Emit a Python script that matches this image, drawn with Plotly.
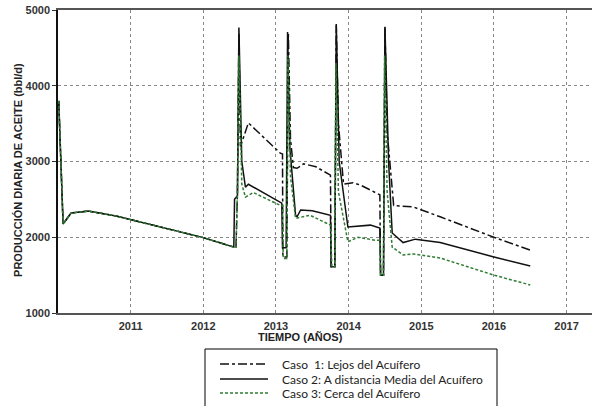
import plotly.graph_objects as go

# Shared early history (decimal years, bbl/d)
base_t = [2010.01, 2010.07, 2010.18, 2010.42, 2010.80, 2011.50, 2012.00, 2012.42]
base_q = [3800, 2175, 2320, 2345, 2280, 2110, 1995, 1870]

# Caso 1: Lejos del Acuífero
c1_t = [2012.45, 2012.47, 2012.49, 2012.51, 2012.53, 2012.62, 2012.80, 2013.06, 2013.09,
        2013.095, 2013.15, 2013.17, 2013.20, 2013.24, 2013.29, 2013.38, 2013.55, 2013.75,
        2013.76, 2013.81, 2013.83, 2013.86, 2013.93, 2014.06, 2014.16, 2014.43,
        2014.44, 2014.48, 2014.50, 2014.53, 2014.62, 2014.89, 2015.26, 2016.00, 2016.50]
c1_q = [1870, 2600, 4700, 3200, 3250, 3510, 3350, 3110, 3100,
        1740, 1740, 4700, 3300, 2920, 2910, 2970, 2930, 2820,
        1610, 1610, 4800, 3500, 2700, 2720, 2690, 2560,
        1500, 1500, 4780, 3400, 2420, 2400, 2270, 2000, 1830]

# Caso 2: A distancia Media del Acuífero
c2_t = [2012.43, 2012.47, 2012.49, 2012.53, 2012.58, 2012.62, 2013.08, 2013.09, 2013.14,
        2013.16, 2013.19, 2013.27, 2013.29, 2013.34, 2013.50, 2013.75, 2013.76, 2013.81,
        2013.83, 2013.87, 2013.99, 2014.30, 2014.43, 2014.44, 2014.48, 2014.50, 2014.55,
        2014.60, 2014.75, 2014.92, 2015.26, 2016.00, 2016.50]
c2_q = [2500, 2550, 4770, 3000, 2660, 2700, 2450, 1860, 1860,
        4710, 3200, 2290, 2270, 2360, 2350, 2290, 1610, 1610,
        4815, 3000, 2135, 2160, 2120, 1500, 1500, 4780, 3000,
        2056, 1930, 1975, 1930, 1740, 1620]

# Caso 3: Cerca del Acuífero
c3_t = [2012.45, 2012.47, 2012.49, 2012.53, 2012.58, 2012.69, 2013.06, 2013.09, 2013.10,
        2013.15, 2013.165, 2013.20, 2013.27, 2013.47, 2013.75, 2013.77, 2013.81, 2013.825,
        2013.86, 2013.99, 2014.13, 2014.365, 2014.43, 2014.44, 2014.48, 2014.495, 2014.53,
        2014.60, 2014.75, 2014.89, 2015.26, 2016.00, 2016.50]
c3_q = [1870, 2600, 4400, 2700, 2530, 2590, 2420, 2420, 1720,
        1720, 4400, 2800, 2250, 2290, 2160, 1610, 1610, 4300,
        2600, 1940, 2000, 1960, 1960, 1500, 1500, 4400, 2600,
        1870, 1766, 1780, 1726, 1500, 1370]

x_ticks = [2011, 2012, 2013, 2014, 2015, 2016, 2017]
y_ticks = [1000, 2000, 3000, 4000, 5000]

names = ["Caso  1: Lejos del Acuífero",
         "Caso 2: A distancia Media del Acuífero",
         "Caso 3: Cerca del Acuífero"]

styles = [dict(color="#111111", width=1.5, dash="dashdot"),
          dict(color="#111111", width=1.5),
          dict(color="#2e7d32", width=1.5, dash="3px,2px")]
series = [(base_t + c1_t, base_q + c1_q),
          (base_t + c2_t, base_q + c2_q),
          (base_t + c3_t, base_q + c3_q)]

fig = go.Figure()
for (t, q), name, st in zip(series, names, styles):
    fig.add_trace(go.Scatter(x=t, y=q, mode="lines", name=name, line=st, showlegend=False))

tickfont = dict(family="Liberation Sans", size=11, color="#333333", weight="bold")

fig.update_xaxes(range=[2010.0, 2017.35], tickvals=x_ticks, showgrid=True,
                 gridcolor="#888888", griddash="dot", gridwidth=1,
                 showline=True, linecolor="#555555", linewidth=1.5, mirror=True,
                 ticks="", tickfont=tickfont, zeroline=False, ticklabelstandoff=2)
fig.update_yaxes(range=[1000, 5000], tickvals=y_ticks, showgrid=True,
                 gridcolor="#888888", griddash="dot", gridwidth=1,
                 showline=True, linecolor="#111111", linewidth=1.5,
                 ticks="outside", ticklen=4, tickcolor="#333333",
                 tickfont=tickfont, zeroline=False)

fig.add_annotation(text="TIEMPO (AÑOS)", xref="paper", yref="paper", x=0.455, y=-0.079,
                   showarrow=False, xanchor="center", yanchor="middle",
                   font=dict(family="Liberation Sans", size=11, color="#222222", weight="bold"))
fig.add_annotation(text="PRODUCCIÓN DIARIA DE ACEITE (bbl/d)", xref="paper", yref="paper",
                   x=-0.075, y=0.472, textangle=-90, showarrow=False,
                   xanchor="center", yanchor="middle",
                   font=dict(family="Liberation Sans", size=11, color="#222222", weight="bold"))

# Legend box (drawn manually to match the tight row spacing)
L, W, T, H = 58, 534, 10, 303
px = lambda v: (v - L) / W
py = lambda v: (T + H - v) / H
fig.add_shape(type="rect", xref="paper", yref="paper",
              x0=px(205), x1=px(497), y0=py(349), y1=py(420),
              line=dict(color="#000000", width=1), fillcolor="white", layer="above")
rows = [364, 379, 393]
for r, name, st in zip(rows, names, styles):
    fig.add_shape(type="line", xref="paper", yref="paper",
                  x0=px(220), x1=px(268), y0=py(r), y1=py(r), line=st, layer="above")
    fig.add_annotation(text=name, xref="paper", yref="paper", x=px(280), y=py(r),
                       xanchor="left", yanchor="middle", showarrow=False,
                       font=dict(family="Lato", size=12, color="#222222"))

fig.update_layout(
    width=592, height=406,
    margin=dict(l=58, r=0, t=10, b=93, autoexpand=False),
    paper_bgcolor="white", plot_bgcolor="white",
    showlegend=False,
)

fig.write_html("out.html", config={"displayModeBar": False},
               post_script="document.body.style.margin='0';")
